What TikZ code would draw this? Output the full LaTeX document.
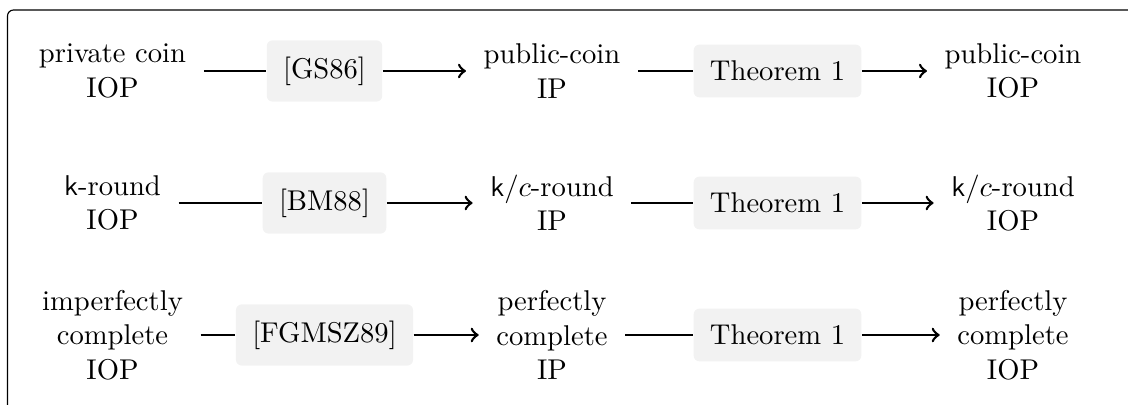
\documentclass[tikz,border=0pt]{standalone}
\begin{document}
\begin{tikzpicture}[y=1.229cm, x=1.229cm,
  stage/.style={align=center, inner xsep=6pt, inner ysep=3pt},
  via/.style={fill=black!5, rounded corners=2pt, inner sep=5.7pt},
  link/.style={line width=0.9pt}]
\useasboundingbox (0,0) rectangle (11.28,4.05);
\draw[rounded corners=2.1pt] (0.075,0) -- (0.075,3.95) -- (11.28,3.95);
\node[stage] (a1) at (1.125,3.34) {private coin\\IOP};
\node[via] (g1) at (3.245,3.34) {[GS86]};
\node[stage] (b1) at (5.52,3.34) {public-coin\\IP};
\node[via] (t1) at (7.775,3.34) {Theorem 1};
\node[stage] (c1) at (10.13,3.34) {public-coin\\IOP};
\node[stage] (a2) at (1.125,2.02) {$\mathsf{k}$-round\\IOP};
\node[via] (g2) at (3.245,2.02) {[BM88]};
\node[stage] (b2) at (5.52,2.02) {$\mathsf{k}/c$-round\\IP};
\node[via] (t2) at (7.775,2.02) {Theorem 1};
\node[stage] (c2) at (10.13,2.02) {$\mathsf{k}/c$-round\\IOP};
\node[stage] (a3) at (1.125,0.70) {imperfectly\\complete\\IOP};
\node[via] (g3) at (3.245,0.70) {[FGMSZ89]};
\node[stage] (b3) at (5.52,0.70) {perfectly\\complete\\IP};
\node[via] (t3) at (7.775,0.70) {Theorem 1};
\node[stage] (c3) at (10.13,0.70) {perfectly\\complete\\IOP};
\draw[link] (a1) -- (g1);
\draw[link,->] (g1) -- (b1);
\draw[link] (b1) -- (t1);
\draw[link,->] (t1) -- (c1);
\draw[link] (a2) -- (g2);
\draw[link,->] (g2) -- (b2);
\draw[link] (b2) -- (t2);
\draw[link,->] (t2) -- (c2);
\draw[link] (a3) -- (g3);
\draw[link,->] (g3) -- (b3);
\draw[link] (b3) -- (t3);
\draw[link,->] (t3) -- (c3);
\end{tikzpicture}
\end{document}
